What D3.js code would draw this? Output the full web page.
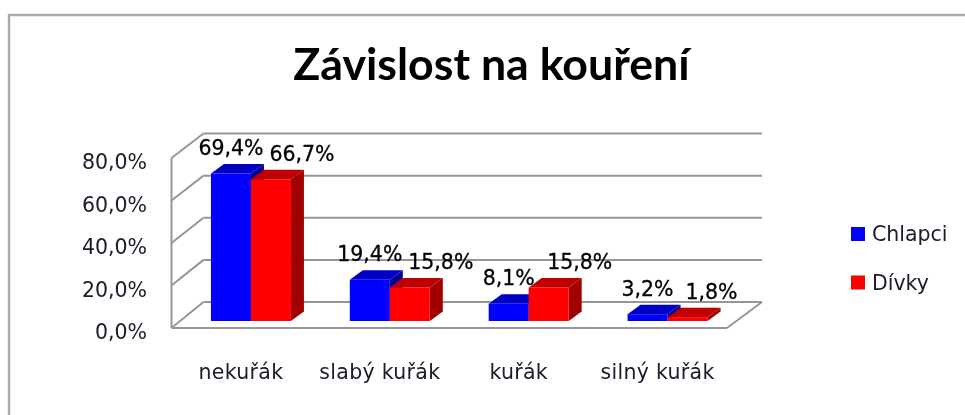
<!DOCTYPE html>
<html><head><meta charset="utf-8">
<script src="https://cdn.jsdelivr.net/npm/d3@7"></script>
<style>
html,body{margin:0;padding:0;background:#fff}
svg{display:block}
.t{font-family:"DejaVu Sans",sans-serif;fill:#1a1a2a}
</style></head><body>
<svg id="c" width="965" height="415"></svg>
<script>
const titleText = "Závislost na kouření";
const categories = ["nekuřák","slabý kuřák","kuřák","silný kuřák"];
const seriesNames = ["Chlapci","Dívky"];
const chlapci = [69.4,19.4,8.1,3.2];
const divky = [66.7,15.8,15.8,1.8];
const tickValues = [0,20,40,60,80];
const seriesFront = ["#0000ff","#ff0000"];
const seriesTop = ["#0000c4","#c00000"];
const seriesSide = ["#00009c","#a00000"];
const labelNudge = [[0,31],[0,31],[0,31],[0,24]];

const fmt = v => v.toFixed(1).replace(".",",") + "%";
const svg = d3.select("#c");
const defs = svg.append("defs");
defs.append("filter").attr("id","soft").append("feGaussianBlur").attr("stdDeviation",0.5);
const root = svg.append("g").attr("filter","url(#soft)");

const grey = "#969696";
root.append("path").attr("d","M9,415V15H965").attr("fill","none").attr("stroke","#aaaaaa").attr("stroke-width",2.4);

root.append("text").attr("x",491.5).attr("y",80).attr("text-anchor","middle")
  .style("font-family","Lato, sans-serif").style("font-weight",700).style("font-size","44.7px").style("fill","#000")
  .text(titleText);

const x = d3.scaleBand().domain(categories).range([171.5,727]);
const yFront = d3.scaleLinear().domain([0,80]).range([328,158]);
const yBack = d3.scaleLinear().domain([0,80]).range([302,133.5]);
const yBar = d3.scaleLinear().domain([0,80]).range([321,151]);
const wall = {dx:32};
const backL = 171.5+wall.dx, backR = 762;

const g = root.append("g").attr("fill","none").attr("stroke",grey).attr("stroke-width",2);
tickValues.forEach(v=>{
  g.append("line").attr("x1",backL).attr("x2",backR).attr("y1",yBack(v)).attr("y2",yBack(v));
  g.append("line").attr("x1",x.range()[0]).attr("x2",backL).attr("y1",yFront(v)).attr("y2",yBack(v));
});
g.append("line").attr("x1",x.range()[0]).attr("x2",x.range()[0]).attr("y1",yFront(80)).attr("y2",yFront(0));
g.append("line").attr("x1",x.range()[0]).attr("x2",x.range()[1]).attr("y1",yFront(0)).attr("y2",yFront(0));
g.append("line").attr("x1",x.range()[1]).attr("x2",backR).attr("y1",yFront(0)).attr("y2",yBack(0));

const yAxis = root.append("g").attr("transform","translate(147,4)")
  .call(d3.axisLeft(yFront).tickValues(tickValues).tickFormat(fmt).tickSize(0).tickPadding(0));
yAxis.select(".domain").remove();
yAxis.selectAll("text").attr("class","t").style("font-size","20.5px").attr("fill",null);

const xAxis = root.append("g").attr("transform","translate(0,364)")
  .call(d3.axisBottom(x).tickSize(0).tickPadding(0));
xAxis.select(".domain").remove();
xAxis.selectAll("text").attr("class","t").style("font-size","20.5px").style("letter-spacing","0.3px").attr("fill",null);

const barW = 40, dpx = 13, dpy = 9.5, shift = 10;
const series = [chlapci,divky];
categories.forEach((c,i)=>{
  const cx = x(c)+x.bandwidth()/2+shift;
  series.forEach((vals,s)=>{
    const x0 = cx-barW+s*barW, x1 = x0+barW;
    const yt = yBar(vals[i]), yb = yBar(0);
    const bg = root.append("g");
    bg.append("polygon").attr("fill",seriesSide[s])
      .attr("points",[[x1,yt],[x1+dpx,yt-dpy],[x1+dpx,yb-dpy],[x1,yb]].join(" "));
    bg.append("polygon").attr("fill",seriesTop[s])
      .attr("points",[[x0,yt],[x0+dpx,yt-dpy],[x1+dpx,yt-dpy],[x1,yt]].join(" "));
    bg.append("rect").attr("fill",seriesFront[s]).attr("x",x0).attr("y",yt).attr("width",barW).attr("height",yb-yt);
  });
});
categories.forEach((c,i)=>{
  const cx = x(c)+x.bandwidth()/2+shift;
  series.forEach((vals,s)=>{
    root.append("text").attr("class","t").attr("text-anchor","middle")
      .attr("x",cx-barW/2+s*barW+labelNudge[i][s])
      .attr("y",yBar(vals[i])-dpy-9)
      .style("font-size","20.5px").style("fill","#000").style("stroke","#000").style("stroke-width",0.3).text(fmt(vals[i]));
  });
});

seriesNames.forEach((n,s)=>{
  const ly = 234+s*48.5;
  root.append("rect").attr("x",851).attr("y",ly-7).attr("width",14).attr("height",14).attr("fill",seriesFront[s]);
  root.append("text").attr("class","t").attr("x",872).attr("y",ly+7).style("font-size","20.5px").text(n);
});
</script></body></html>
